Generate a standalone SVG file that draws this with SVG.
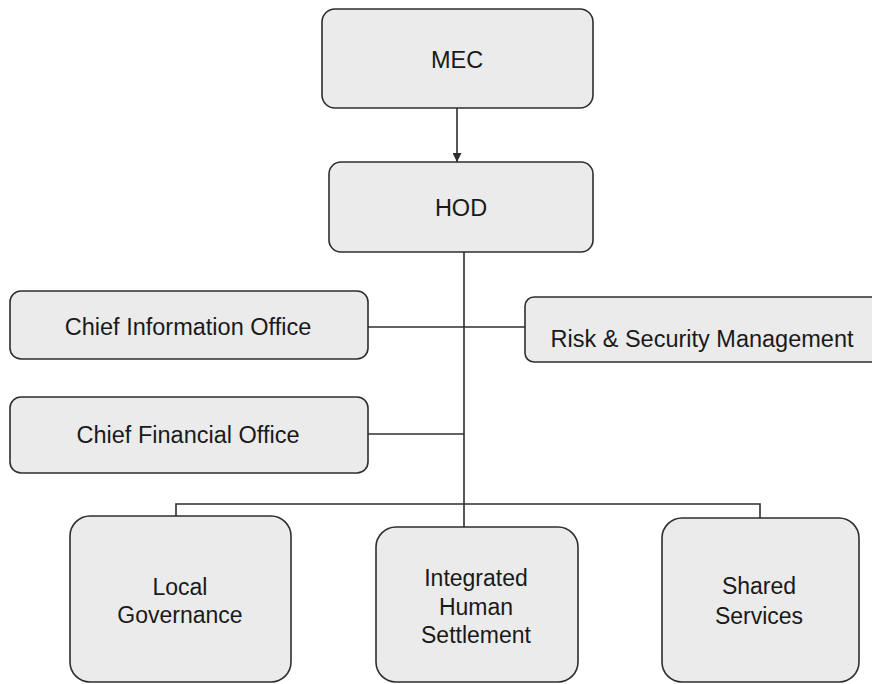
<svg xmlns="http://www.w3.org/2000/svg" width="872" height="684" viewBox="0 0 872 684">
<style>
.box{fill:#ebebeb;stroke:#2e2e2e;stroke-width:1.6}
.t{font-family:"Liberation Sans",Arial,sans-serif;font-size:23.5px;fill:#1a1a1a;text-anchor:middle}
.b{font-size:23px}
.ln{stroke:#2e2e2e;stroke-width:1.6;fill:none}
</style>
<defs>
<marker id="arr" viewBox="0 0 10 10" refX="10" refY="5" markerWidth="9" markerHeight="9" markerUnits="userSpaceOnUse" orient="auto">
<path d="M0,0 L10,5 L0,10 z" fill="#2e2e2e"/>
</marker>
</defs>
<rect width="872" height="684" fill="#ffffff"/>
<g id="connectors">
<line class="ln" x1="457" y1="108" x2="457" y2="162" marker-end="url(#arr)"/>
<line class="ln" x1="464" y1="252" x2="464" y2="527"/>
<line class="ln" x1="368" y1="327" x2="525" y2="327"/>
<line class="ln" x1="368" y1="434" x2="464" y2="434"/>
<polyline class="ln" points="176,516 176,504 760,504 760,518"/>
</g>
<g id="mec">
<rect class="box" x="322" y="9" width="271" height="99" rx="13"/>
<text class="t" x="457" y="68">MEC</text>
</g>
<g id="hod">
<rect class="box" x="329" y="162" width="264" height="90" rx="12"/>
<text class="t" x="461" y="216">HOD</text>
</g>
<g id="cio">
<rect class="box" x="10" y="291" width="358" height="68" rx="11"/>
<text class="t" x="188" y="335">Chief Information Office</text>
</g>
<g id="cfo">
<rect class="box" x="10" y="397" width="358" height="76" rx="11"/>
<text class="t" x="188" y="443">Chief Financial Office</text>
</g>
<g id="risk">
<rect class="box" x="525" y="297" width="360" height="65" rx="9"/>
<text class="t" x="702" y="347">Risk &amp; Security Management</text>
</g>
<g id="local">
<rect class="box" x="70" y="516" width="221" height="166" rx="20"/>
<text class="t b" x="180" y="595">Local</text>
<text class="t b" x="180" y="623">Governance</text>
</g>
<g id="ihs">
<rect class="box" x="376" y="527" width="202" height="155" rx="20"/>
<text class="t b" x="476" y="586">Integrated</text>
<text class="t b" x="476" y="615">Human</text>
<text class="t b" x="476" y="643">Settlement</text>
</g>
<g id="shared">
<rect class="box" x="662" y="518" width="197" height="164" rx="20"/>
<text class="t b" x="759" y="594">Shared</text>
<text class="t b" x="759" y="624">Services</text>
</g>
</svg>
